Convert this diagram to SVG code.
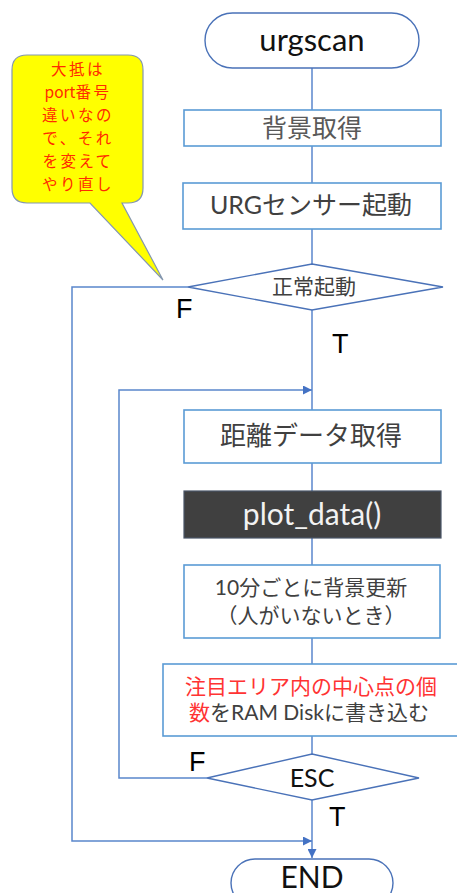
<svg xmlns="http://www.w3.org/2000/svg" width="457" height="893" viewBox="0 0 457 893">
<style>
.box{fill:#fff;stroke:#5b9bd5;stroke-width:1.6}
.term{fill:#fff;stroke:#4a72b8;stroke-width:1.4}
.dia{fill:#fff;stroke:#4a72b8;stroke-width:1.4}
.con{fill:none;stroke:#5a86cc;stroke-width:1.5}
.t{font-family:Lato,"Noto Sans CJK JP",sans-serif;text-anchor:middle}
.j{font-family:"Noto Sans CJK JP",sans-serif;text-anchor:middle}
.lbl{font-family:"Liberation Sans",Arial,sans-serif;font-size:27px;fill:#000}
</style>
<defs>
<marker id="ah" viewBox="0 0 10 10" refX="10" refY="5" markerWidth="6" markerHeight="6" orient="auto" markerUnits="strokeWidth">
<path d="M0,0 L10,5 L0,10 z" fill="#4472c4"/>
</marker>
</defs>
<g id="connectors">
<line class="con" x1="312" y1="68" x2="312" y2="110"/>
<line class="con" x1="312" y1="146" x2="312" y2="183"/>
<line class="con" x1="312" y1="229" x2="312" y2="264"/>
<line class="con" x1="312" y1="310" x2="312" y2="410"/>
<line class="con" x1="312" y1="463" x2="312" y2="491"/>
<line class="con" x1="312" y1="538" x2="312" y2="565"/>
<line class="con" x1="312" y1="638" x2="312" y2="664"/>
<line class="con" x1="312" y1="736" x2="312" y2="754"/>
<line class="con" x1="312" y1="800" x2="312" y2="858" marker-end="url(#ah)"/>
<polyline class="con" points="207,778 119,778 119,390 312,390" marker-end="url(#ah)"/>
<polyline class="con" points="188,287 72,287 72,841 312,841" marker-end="url(#ah)"/>
</g>
<g id="callout">
<path d="M27,55 H128 Q143,55 143,70 V188 Q143,203 128,203 H122 L163,280 L90,203 H27 Q12,203 12,188 V70 Q12,55 27,55 Z" fill="#ffff00" stroke="#8497b0" stroke-width="1.2"/>
<g class="j" font-size="15.5" letter-spacing="2.5" fill="#ff2a00">
<text x="78" y="75">大抵は</text>
<text x="78" y="98"><tspan letter-spacing="0">port</tspan>番号</text>
<text x="78" y="121">違いなの</text>
<text x="78" y="144">で、それ</text>
<text x="78" y="167">を変えて</text>
<text x="78" y="190">やり直し</text>
</g>
</g>
<g id="start">
<rect class="term" x="205" y="13" width="214" height="55" rx="27.5"/>
<text class="t" x="312" y="51" font-size="31" fill="#111">urgscan</text>
</g>
<g id="bg">
<rect class="box" x="184" y="110" width="257" height="36"/>
<text class="j" x="312" y="137" font-size="25" fill="#595959">背景取得</text>
</g>
<g id="urg">
<rect class="box" x="183" y="183" width="258" height="46"/>
<text class="t" x="311" y="214" font-size="25" fill="#404040">URGセンサー起動</text>
</g>
<g id="check">
<polygon class="dia" points="312,264 443,287 312,310 188,287"/>
<text class="j" x="314" y="294" font-size="21" fill="#404040">正常起動</text>
</g>
<text class="lbl" x="176" y="318">F</text>
<text class="lbl" x="332" y="353">T</text>
<g id="dist">
<rect class="box" x="184" y="410" width="257" height="53"/>
<text class="j" x="311" y="445" font-size="26" fill="#404040">距離データ取得</text>
</g>
<g id="plot">
<rect x="184" y="491" width="257" height="47" fill="#404040" stroke="#4a5568" stroke-width="1.2"/>
<text class="t" x="312" y="525" font-size="30" fill="#f2f2f2">plot_data()</text>
</g>
<g id="update">
<rect class="box" x="184" y="565" width="256" height="73"/>
<text class="t" x="311" y="595" font-size="21" fill="#404040">10分ごとに背景更新</text>
<text class="j" x="311" y="623" font-size="21" fill="#404040">（人がいないとき）</text>
</g>
<g id="count">
<rect class="box" x="163" y="664" width="300" height="72"/>
<text class="j" x="311" y="694" font-size="21" fill="#ff3333">注目エリア内の中心点の個</text>
<text class="t" x="309" y="720" font-size="21" fill="#404040"><tspan fill="#ff3333">数</tspan>をRAM Diskに書き込む</text>
</g>
<g id="esc">
<polygon class="dia" points="312,754 419,778 312,800 207,778"/>
<text class="t" x="312" y="787" font-size="25" fill="#111">ESC</text>
</g>
<text class="lbl" x="189" y="771">F</text>
<text class="lbl" x="329" y="826">T</text>
<g id="end">
<rect class="term" x="231" y="859" width="162" height="48" rx="24"/>
<text class="t" x="312" y="888" font-size="30" fill="#111">END</text>
</g>
</svg>
